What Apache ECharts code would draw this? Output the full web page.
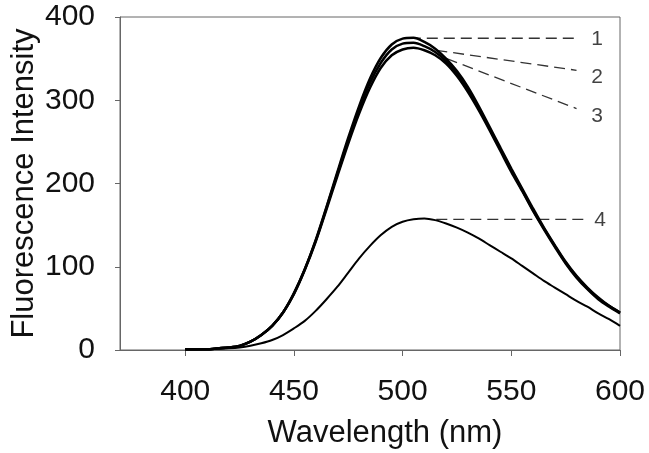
<!DOCTYPE html>
<html><head><meta charset="utf-8">
<script src="https://cdn.jsdelivr.net/npm/echarts@6/dist/echarts.min.js"></script>
<style>html,body{margin:0;padding:0;background:#fff}#c{width:649px;height:453px}</style>
</head><body><div id="c"></div>
<script>
const wavelength = [400,405,410,415,420,425,430,435,440,445,450,455,460,465,470,475,480,485,490,495,500,505,510,515,520,525,530,535,540,545,550,555,560,565,570,575,580,585,590,595,600];
const curve1 = [1,1,1,2,3,5,10,18,29,45,68,97,132,172,214,255,293,326,351,367,374,375,370,362,350,335,316,293,268,243,218,194,170,147,126,106,89,75,63,53,45];
const curve2 = [1,1,1,2,3,5,10,18,29,45,68,97,131,171,212,252,289,321,345,361,368,369,365,358,347,332,313,291,266,241,216,192,168,146,125,105,88,74,62,53,45];
const curve3 = [1,1,1,2,3,5,10,18,29,45,67,96,130,169,209,248,284,315,339,354,361,363,360,354,344,329,310,288,264,239,214,191,167,145,124,104,87,73,61,52,44];
const curve4 = [0.5,0.7,1,1.5,2,3,5,8,12,18,26,35,47,61,76,93,110,125,138,148,154,157,158,156,152,147,141,134,126,118,110,101,92,83,75,67,59,52,44,37,29];
const xTicks = [400,450,500,550,600];
const leaderLines = [
  [[503.3,374.5],[580,374.5]],
  [[515.5,360],[580,336]],
  [[520.3,350],[580,290]],
  [[515.5,157],[584.7,157]]
];
const leaderLabels = [[589.5,373,'1'],[589.5,328,'2'],[589.5,281,'3'],[590.8,156,'4']];

const font = "'Liberation Sans', Arial, sans-serif";
const mk = a => wavelength.map((w,i)=>[w,a[i]]);
const curveSeries = [curve1,curve2,curve3].map(c=>({
  type:'line', data:mk(c), symbol:'none', smooth:0.3,
  lineStyle:{color:'#000', width:2.5}, z:3
}));
curveSeries.push({type:'line', data:mk(curve4), symbol:'none', smooth:0.3, lineStyle:{color:'#000', width:2}, z:3});
const leaderSeries = leaderLines.map(l=>({
  type:'line', data:l, symbol:'none', lineStyle:{color:'#333', width:1.3, type:[11,6]}, z:2
}));
const chart = echarts.init(document.getElementById('c'));
chart.setOption({
  animation:false,
  grid:{left:120, top:17, right:29, bottom:103, show:true, borderColor:'#666', borderWidth:1,
    containLabel:false, outerBoundsMode:'none'},
  xAxis:{type:'value', min:370, max:600,
    name:'Wavelength (nm)', nameLocation:'middle', nameGap:68, nameMoveOverlap:false,
    nameTextStyle:{fontFamily:font, fontSize:31, color:'#111', padding:[0,0,0,30]},
    axisLine:{lineStyle:{color:'#666', width:1}},
    axisTick:{show:true, length:6, customValues:xTicks, lineStyle:{color:'#666'}},
    axisLabel:{customValues:xTicks, fontFamily:font, fontSize:30, color:'#111', margin:27},
    splitLine:{show:false}},
  yAxis:{type:'value', min:0, max:400, interval:100,
    name:'Fluorescence Intensity', nameLocation:'middle', nameGap:80, nameMoveOverlap:false,
    nameTextStyle:{fontFamily:font, fontSize:31, color:'#111'},
    axisLine:{show:true, lineStyle:{color:'#666', width:1}},
    axisTick:{show:true, length:5, lineStyle:{color:'#666'}},
    axisLabel:{fontFamily:font, fontSize:30, color:'#111', margin:25},
    splitLine:{show:false}},
  series:[...curveSeries, ...leaderSeries, {
    type:'scatter', data:leaderLabels, symbolSize:0,
    label:{show:true, position:'inside', formatter:p=>p.data[2], fontFamily:font, fontSize:21, color:'#111'}
  }]
});
</script></body></html>
